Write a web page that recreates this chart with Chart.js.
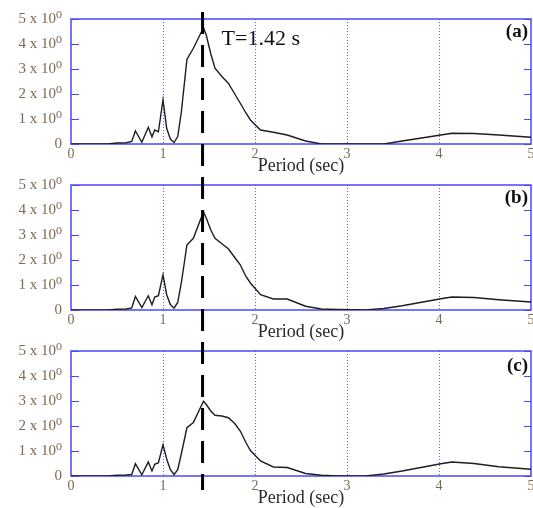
<!DOCTYPE html>
<html>
<head>
<meta charset="utf-8">
<script src="https://cdn.jsdelivr.net/npm/chart.js@4.4.1/dist/chart.umd.min.js"></script>
<style>
html, body { margin: 0; padding: 0; background: #fff; overflow: hidden; }
body { width: 533px; height: 508px; position: relative; }
.panel { position: absolute; left: 0; width: 533px; height: 180px; }
</style>
</head>
<body>
<div class="panel" style="top:0px"><canvas id="chartA" width="533" height="180"></canvas></div>
<div class="panel" style="top:166px"><canvas id="chartB" width="533" height="180"></canvas></div>
<div class="panel" style="top:332px"><canvas id="chartC" width="533" height="180"></canvas></div>
<script>
// Period grid (sec) shared by the three spectra
const periods = [0, 0.4, 0.5, 0.6, 0.66, 0.70, 0.77, 0.84, 0.88, 0.91, 0.95, 1.0, 1.04, 1.08, 1.12, 1.16, 1.2, 1.26, 1.33, 1.44, 1.47, 1.52, 1.565, 1.64, 1.71, 1.78, 1.84, 1.9, 1.95, 2.06, 2.2, 2.35, 2.55, 2.72, 2.9, 3.2, 3.4, 3.6, 4.02, 4.14, 4.38, 4.65, 5.0];

const spectrumA = [0, 0, 0.04, 0.05, 0.1, 0.52, 0.07, 0.67, 0.29, 0.56, 0.49, 1.76, 0.63, 0.2, 0.06, 0.3, 1.3, 3.38, 3.83, 4.65, 4.36, 3.6, 3.03, 2.7, 2.43, 2.0, 1.63, 1.25, 0.96, 0.56, 0.47, 0.36, 0.12, 0.0, 0, 0, 0, 0.12, 0.36, 0.43, 0.42, 0.36, 0.27];
const spectrumB = [0, 0, 0.03, 0.04, 0.08, 0.54, 0.1, 0.57, 0.21, 0.52, 0.57, 1.41, 0.61, 0.22, 0.07, 0.3, 1.1, 2.6, 2.87, 3.93, 3.68, 3.2, 2.87, 2.65, 2.45, 2.1, 1.81, 1.35, 1.08, 0.61, 0.44, 0.44, 0.15, 0.04, 0.02, 0, 0.06, 0.17, 0.45, 0.52, 0.5, 0.41, 0.32];
const spectrumC = [0, 0, 0.03, 0.04, 0.06, 0.49, 0.05, 0.56, 0.2, 0.47, 0.53, 1.25, 0.68, 0.25, 0.06, 0.25, 0.9, 1.93, 2.14, 2.99, 2.86, 2.6, 2.43, 2.4, 2.33, 2.1, 1.8, 1.35, 1.02, 0.6, 0.36, 0.34, 0.1, 0.03, 0, 0, 0.08, 0.2, 0.49, 0.56, 0.5, 0.37, 0.27];

const yTickText = ['0', '1 x 10\u2070', '2 x 10\u2070', '3 x 10\u2070', '4 x 10\u2070', '5 x 10\u2070'];
const xTickValues = [0, 1, 2, 3, 4, 5];
const panelTags = ['(a)', '(b)', '(c)'];
const markerPeriod = 1.43;
const markerText = 'T=1.42 s';

const SERIF = "'Liberation Serif', 'DejaVu Serif', serif";
const TICK_COLOR = '#7d6a52';
const BLUE = '#4747ff';

// frame, dotted grid, inner ticks, labels and the dashed period marker
const panelDeco = {
    id: 'panelDeco',
    beforeDatasetsDraw(chart) {
        const { ctx, chartArea: a, scales } = chart;
        ctx.save();
        // dotted vertical grid at the inner x ticks
        ctx.strokeStyle = '#5b5bff';
        ctx.lineWidth = 1;
        ctx.setLineDash([1, 2]);
        scales.x.ticks.forEach(t => {
            if (t.value <= 0 || t.value >= 5) return;
            const px = Math.round(scales.x.getPixelForValue(t.value)) + 0.5;
            ctx.beginPath();
            ctx.moveTo(px, a.top); ctx.lineTo(px, a.bottom);
            ctx.stroke();
        });
        ctx.setLineDash([]);
        ctx.strokeStyle = BLUE;
        ctx.lineWidth = 1.5;
        ctx.strokeRect(a.left, a.top, a.right - a.left, a.bottom - a.top);
        ctx.lineWidth = 1;
        scales.y.ticks.forEach(t => {
            const py = Math.round(scales.y.getPixelForValue(t.value)) + 0.5;
            ctx.beginPath();
            ctx.moveTo(a.left, py); ctx.lineTo(a.left + 8, py);
            ctx.moveTo(a.right - 7, py); ctx.lineTo(a.right, py);
            ctx.stroke();
        });
        ctx.restore();
    },
    afterDraw(chart, args, opts) {
        const { ctx, chartArea: a, scales } = chart;
        const px = scales.x.getPixelForValue(markerPeriod);
        ctx.save();
        ctx.strokeStyle = '#000';
        ctx.lineWidth = 3;
        ctx.setLineDash([22, 11]);
        ctx.lineDashOffset = opts.offset + opts.from - 12;
        ctx.beginPath();
        ctx.moveTo(px, opts.from);
        ctx.lineTo(px, opts.to);
        ctx.stroke();
        ctx.setLineDash([]);

        ctx.fillStyle = '#111';
        ctx.textBaseline = 'middle';
        ctx.textAlign = 'right';
        ctx.font = 'bold 19px ' + SERIF;
        ctx.fillText(opts.tag, a.right - 3, a.top + opts.tagDy);
        if (opts.showMarker) {
            ctx.textAlign = 'left';
            ctx.font = '22px ' + SERIF;
            ctx.fillText(markerText, px + 19, a.top + 20);
        }
        ctx.restore();
    }
};

function makePanel(id, values, deco) {
    const points = periods.map((p, i) => ({ x: p, y: values[i] }));
    return new Chart(document.getElementById(id), {
        type: 'line',
        data: {
            datasets: [{
                data: points,
                borderColor: '#1e1e1e',
                borderWidth: 1.4,
                pointRadius: 0,
                tension: 0,
                fill: false
            }]
        },
        options: {
            responsive: false,
            animation: false,
            events: [],
            layout: { padding: { top: 19, right: 2, left: 0, bottom: 3 } },
            plugins: {
                legend: { display: false },
                tooltip: { enabled: false },
                panelDeco: deco
            },
            scales: {
                x: {
                    type: 'linear',
                    min: 0,
                    max: 5,
                    afterBuildTicks: s => { s.ticks = xTickValues.map(v => ({ value: v })); },
                    ticks: { color: TICK_COLOR, font: { family: SERIF, size: 14 }, padding: 2, maxRotation: 0 },
                    grid: { display: false, drawTicks: false },
                    border: { display: false },
                    title: { display: true, text: 'Period (sec)', color: '#2a2a2a', font: { family: SERIF, size: 18 }, padding: 0 },
                    afterFit: s => { s.height = 33; s.paddingLeft = 0; s.paddingRight = 0; }
                },
                y: {
                    min: 0,
                    max: 5,
                    ticks: {
                        stepSize: 1,
                        color: TICK_COLOR,
                        font: { family: SERIF, size: 15 },
                        padding: 9,
                        callback: v => yTickText[v]
                    },
                    grid: { display: false, drawTicks: false },
                    border: { display: false },
                    afterFit: s => { s.width = 71; }
                }
            }
        },
        plugins: [panelDeco]
    });
}

makePanel('chartA', spectrumA, { tag: panelTags[0], offset: 0, from: 12, to: 166, tagDy: 13, showMarker: true });
makePanel('chartB', spectrumB, { tag: panelTags[1], offset: 166, from: 0, to: 166, tagDy: 13, showMarker: false });
makePanel('chartC', spectrumC, { tag: panelTags[2], offset: 332, from: 0, to: 158, tagDy: 15, showMarker: false });
</script>
</body>
</html>
